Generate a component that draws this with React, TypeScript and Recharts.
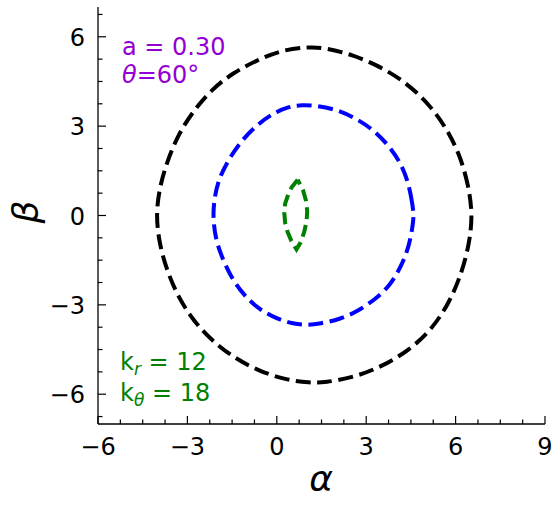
import { LineChart, Line, XAxis, YAxis } from 'recharts';

// outer (black) contour, counterclockwise from the right edge
const outerAlpha = [6.57, 6.44, 6.16, 5.72, 5.13, 4.36, 3.46, 2.53, 1.61, 1.11, 0.21, -0.68, -1.47, -2.19, -2.81, -3.31, -3.70, -3.95, -4.05,
  -3.95, -3.70, -3.31, -2.81, -2.16, -1.43, -0.60, 0.30, 1.11, 1.61, 2.60, 3.55, 4.45, 5.20, 5.78, 6.20, 6.46];
const outerBeta = [0.00, 0.98, 1.99, 2.89, 3.72, 4.45, 5.01, 5.40, 5.63, 5.66, 5.57, 5.21, 4.79, 4.23, 3.50, 2.72, 1.77, 0.87, 0.00,
  -0.90, -1.82, -2.74, -3.52, -4.22, -4.78, -5.22, -5.52, -5.62, -5.61, -5.43, -5.06, -4.52, -3.82, -2.95, -1.95, -0.95];

// middle (blue) contour
const midAlpha = [4.60, 4.55, 4.41, 4.13, 3.73, 3.23, 2.62, 2.00, 1.33, 0.85, 0.40, -0.15, -0.68, -1.18, -1.58, -1.91, -2.08, -2.15,
  -2.06, -1.82, -1.52, -1.13, -0.60, -0.02, 0.55, 1.05, 1.44, 2.11, 2.73, 3.29, 3.79, 4.18, 4.44, 4.56];
const midBeta = [0.00, 0.40, 1.15, 1.82, 2.38, 2.89, 3.28, 3.56, 3.69, 3.71, 3.66, 3.42, 3.03, 2.52, 1.94, 1.32, 0.70, 0.00,
  -0.78, -1.46, -2.09, -2.65, -3.15, -3.46, -3.64, -3.68, -3.63, -3.49, -3.21, -2.82, -2.37, -1.70, -1.03, -0.35];

// inner (green) lens
const innerAlpha = [0.70, 0.50, 0.38, 0.28, 0.25, 0.28, 0.36, 0.49, 0.66, 0.80, 0.92, 1.00, 1.02, 0.98, 0.88, 0.70];
const innerBeta = [1.20, 0.95, 0.70, 0.40, 0.10, -0.25, -0.55, -0.86, -1.14, -0.90, -0.55, -0.20, 0.15, 0.50, 0.85, 1.20];

const xTicks = [-6, -5.25, -4.5, -3.75, -3, -2.25, -1.5, -0.75, 0, 0.75, 1.5, 2.25, 3, 3.75, 4.5, 5.25, 6, 6.75, 7.5, 8.25, 9];
const yTicks = [-6.75, -6, -5.25, -4.5, -3.75, -3, -2.25, -1.5, -0.75, 0, 0.75, 1.5, 2.25, 3, 3.75, 4.5, 5.25, 6, 6.75];

const toPoints = (xs: number[], ys: number[]) => xs.map((x, i) => ({ x, y: ys[i] }));
const outer = toPoints(outerAlpha, outerBeta);
const middle = toPoints(midAlpha, midBeta);
const inner = toPoints(innerAlpha, innerBeta);

const FONT = 'DejaVu Sans, sans-serif';
const fmt = (v: number) => (v < 0 ? '\u2212' + Math.abs(v) : String(v));
const isMajor = (v: number) => Math.abs(v % 3) < 1e-6;

const AxisTick = ({ x, y, payload, side }: any) => {
  const v = payload.value;
  const major = isMajor(v);
  const len = major ? 8 : 4.5;
  let line;
  if (side === 'bottom') line = { x1: x, x2: x, y1: y, y2: y - len };
  else if (side === 'top') line = { x1: x, x2: x, y1: y, y2: y + len };
  else if (side === 'left') line = { x1: x, x2: x + len, y1: y, y2: y };
  else line = { x1: x, x2: x - len, y1: y, y2: y };
  return (
    <g>
      <line {...line} stroke="#000" strokeWidth={1.2} />
      {major && side === 'bottom' && (
        <text x={x} y={y + 31} textAnchor="middle" fontSize={24} fontFamily={FONT} fill="#000">{fmt(v)}</text>
      )}
      {major && side === 'left' && (
        <text x={x - 13} y={y + 9} textAnchor="end" fontSize={24} fontFamily={FONT} fill="#000">{fmt(v)}</text>
      )}
    </g>
  );
};

const dash = '15 6.5';

export default function App() {
  return (
    <div style={{ position: 'absolute', left: 0, top: 0, width: 559, height: 505 }}>
      <LineChart width={559} height={505} margin={{ top: 7, right: 14, bottom: 31, left: 38 }}>
        <XAxis xAxisId={0} dataKey="x" type="number" domain={[-6, 9]} ticks={xTicks} interval={0}
          allowDataOverflow height={50} tickSize={0} tickMargin={0} tickLine={false}
          axisLine={{ stroke: '#000', strokeWidth: 1.3 }} tick={(p: any) => <AxisTick {...p} side="bottom" />} />
        <XAxis xAxisId="top" orientation="top" dataKey="x" type="number" domain={[-6, 9]} ticks={xTicks} interval={0}
          allowDataOverflow height={0} tickSize={0} tickMargin={0} tickLine={false}
          axisLine={{ stroke: '#000', strokeWidth: 1.3 }} tick={(p: any) => <AxisTick {...p} side="top" />} />
        <YAxis yAxisId={0} dataKey="y" type="number" domain={[-7, 7]} ticks={yTicks} interval={0}
          allowDataOverflow width={60} tickSize={0} tickMargin={0} tickLine={false}
          axisLine={{ stroke: '#000', strokeWidth: 1.3 }} tick={(p: any) => <AxisTick {...p} side="left" />} />
        <YAxis yAxisId="right" orientation="right" dataKey="y" type="number" domain={[-7, 7]} ticks={yTicks} interval={0}
          allowDataOverflow width={0} tickSize={0} tickMargin={0} tickLine={false}
          axisLine={{ stroke: '#000', strokeWidth: 1.3 }} tick={(p: any) => <AxisTick {...p} side="right" />} />
        <Line data={outer} dataKey="y" type="basisClosed" stroke="#000" strokeWidth={4} strokeDasharray={dash}
          dot={false} activeDot={false} isAnimationActive={false} />
        <Line data={middle} dataKey="y" type="basisClosed" stroke="#0000ff" strokeWidth={4} strokeDasharray={dash}
          dot={false} activeDot={false} isAnimationActive={false} />
        <Line data={inner} dataKey="y" type="linear" stroke="#008000" strokeWidth={4} strokeDasharray="12 6"
          dot={false} activeDot={false} isAnimationActive={false} />
      </LineChart>
      <svg width={559} height={505} style={{ position: 'absolute', left: 0, top: 0, pointerEvents: 'none' }}
        fontFamily={FONT}>
        <text x={122} y={55} fontSize={24} fill="#9400d3" xmlSpace="preserve">a = 0.30</text>
        <text x={122} y={83} fontSize={24} fill="#9400d3">
          <tspan fontStyle="italic">θ</tspan>=60°
        </text>
        <text x={120} y={370} fontSize={24} fill="#008000" xmlSpace="preserve">
          k<tspan fontSize={17} fontStyle="italic" dy={5}>r</tspan><tspan dy={-5}> = 12</tspan>
        </text>
        <text x={120} y={401} fontSize={24} fill="#008000" xmlSpace="preserve">
          k<tspan fontSize={17} fontStyle="italic" dy={5}>θ</tspan><tspan dy={-5}> = 18</tspan>
        </text>
        <text x={321} y={491} fontSize={36} fontStyle="italic" textAnchor="middle" fill="#000">α</text>
        <text x={0} y={0} fontSize={36} fontStyle="italic" textAnchor="middle" fill="#000"
          transform="translate(38 212) rotate(-90)">β</text>
      </svg>
    </div>
  );
}
